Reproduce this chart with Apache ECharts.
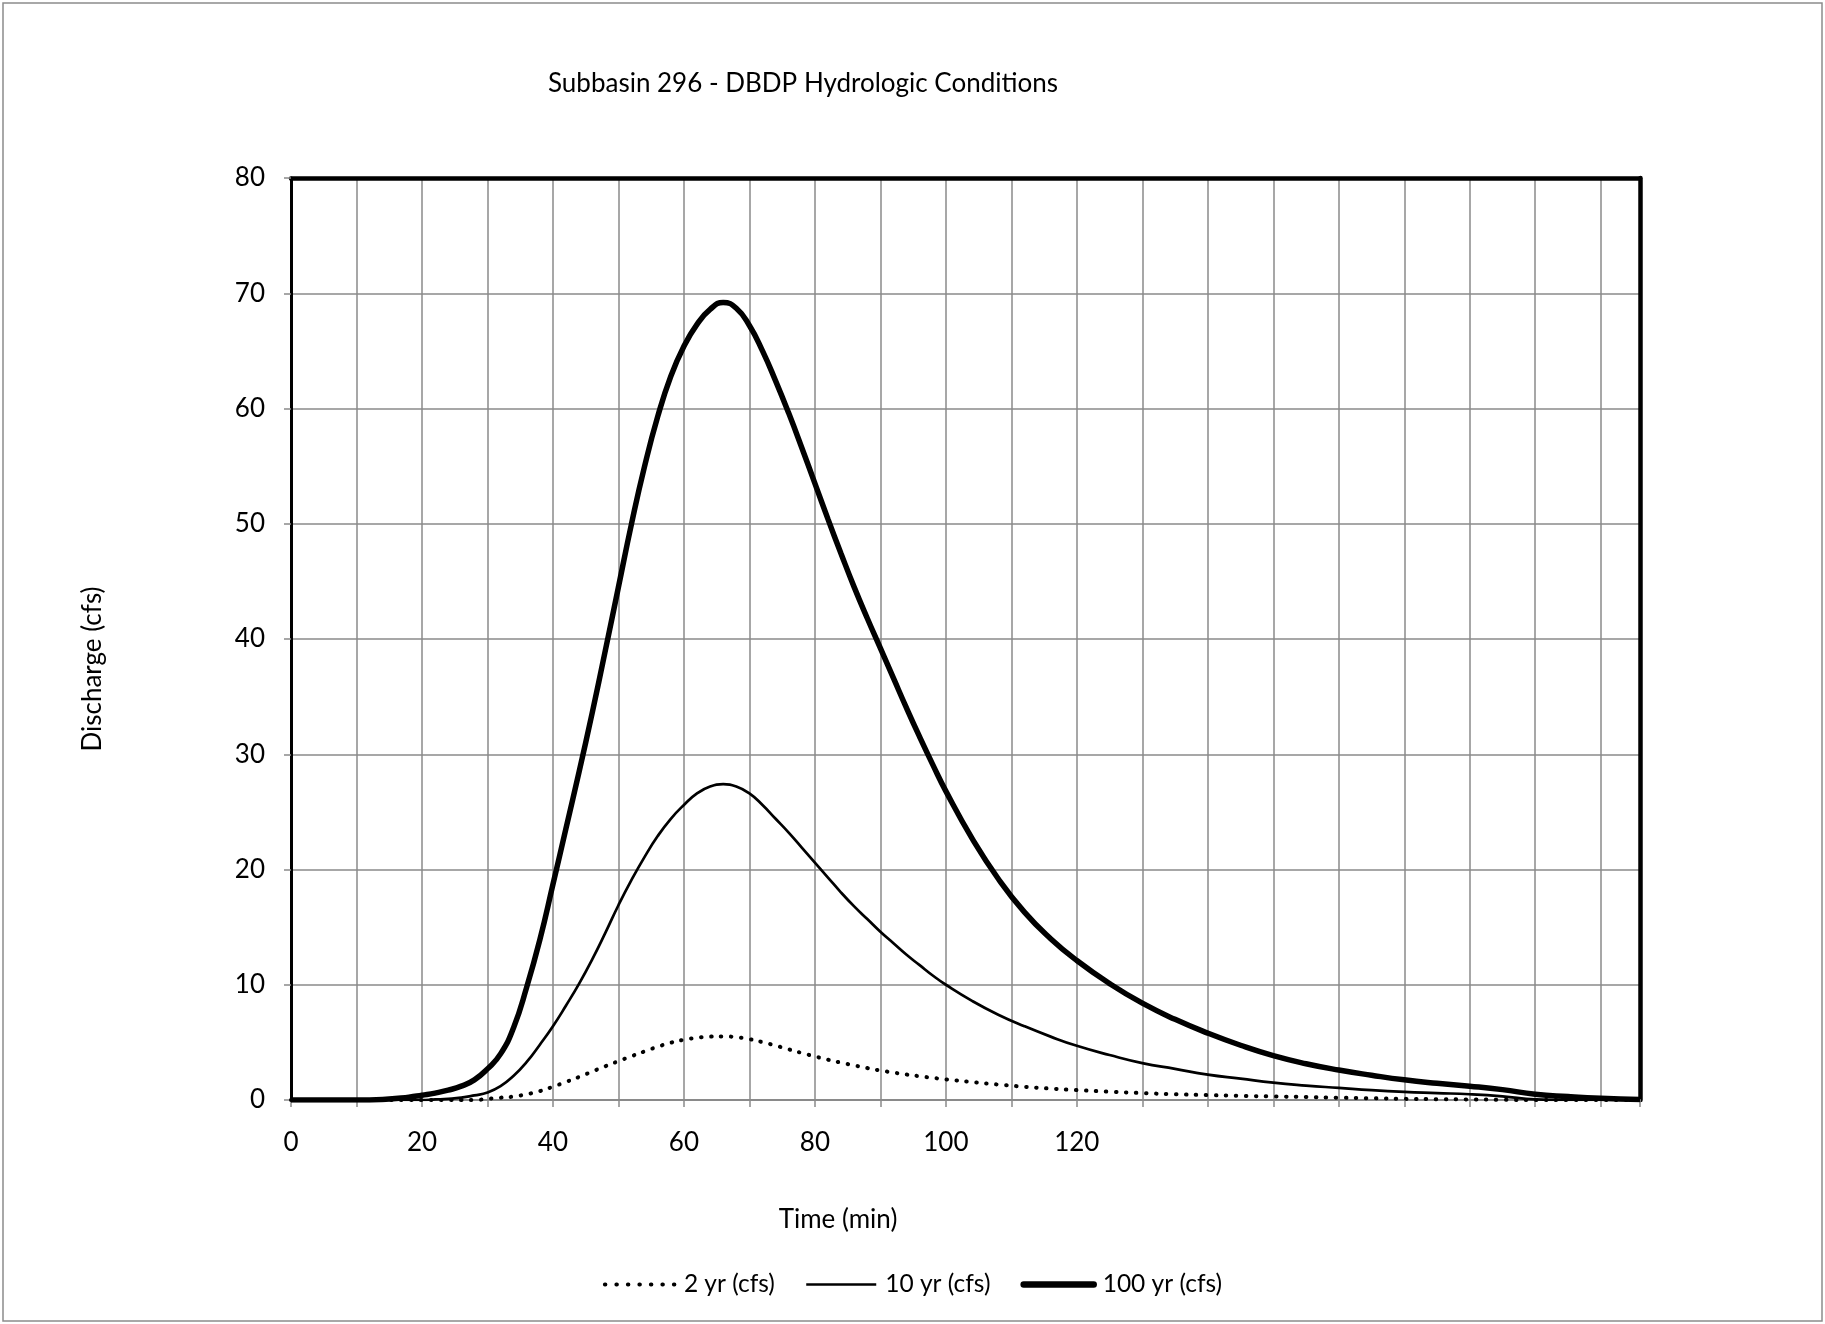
<!DOCTYPE html>
<html>
<head>
<meta charset="utf-8">
<script src="https://cdn.jsdelivr.net/npm/echarts@6/dist/echarts.min.js"></script>
<style>
  html, body { margin: 0; padding: 0; background: #fff; }
  #hydrograph { width: 1825px; height: 1324px; }
</style>
</head>
<body>
<div id="hydrograph"></div>
<script>
// time in minutes (shared by the three storms)
const timeMin = [0, 10, 14, 18, 20, 22, 24, 26, 28, 30, 32, 34, 36, 38, 40, 42, 44, 46, 48, 50,
  52, 54, 56, 58, 60, 62, 64, 66, 68, 70, 72, 74, 76, 78, 80, 82, 84, 86, 88, 90,
  92, 94, 96, 98, 100, 104, 108, 112, 116, 120, 125, 130, 135, 140, 145, 150, 155, 160, 165, 170,
  175, 180, 185, 190, 195, 200, 206];

const q2yr = [0, 0, 0, 0, 0, 0, 0, 0, 0, 0.1, 0.2, 0.3, 0.5, 0.77, 1.15, 1.57, 2.0, 2.47, 2.93, 3.37,
  3.8, 4.22, 4.62, 4.97, 5.23, 5.4, 5.5, 5.52, 5.45, 5.28, 5.02, 4.72, 4.4, 4.08, 3.78, 3.5, 3.24, 3.0, 2.77, 2.56,
  2.38, 2.21, 2.06, 1.92, 1.79, 1.55, 1.34, 1.15, 0.99, 0.86, 0.72, 0.6, 0.5, 0.42, 0.36, 0.31, 0.26, 0.2, 0.15, 0.1,
  0.07, 0.05, 0.02, 0, 0, 0, 0];

const q10yr = [0, 0, 0, 0, 0, 0.05, 0.1, 0.2, 0.4, 0.65, 1.2, 2.1, 3.3, 4.8, 6.4, 8.2, 10.1, 12.2, 14.5, 16.9,
  19.1, 21.1, 22.9, 24.4, 25.6, 26.6, 27.2, 27.4, 27.2, 26.6, 25.6, 24.4, 23.2, 21.9, 20.6, 19.3, 18.0, 16.8, 15.7, 14.6,
  13.6, 12.6, 11.7, 10.8, 10.0, 8.6, 7.4, 6.4, 5.5, 4.7, 3.9, 3.2, 2.7, 2.2, 1.85, 1.5, 1.25, 1.05, 0.85, 0.7,
  0.6, 0.5, 0.32, 0.05, 0, 0, 0];

const q100yr = [0, 0, 0.05, 0.25, 0.42, 0.6, 0.85, 1.2, 1.75, 2.7, 4.0, 6.3, 9.8, 13.9, 18.7, 23.6, 28.5, 33.6, 39.0, 44.5,
  50.0, 55.0, 59.3, 62.8, 65.4, 67.3, 68.6, 69.2, 68.7, 67.2, 65.0, 62.4, 59.6, 56.6, 53.5, 50.4, 47.4, 44.5, 41.8, 39.2,
  36.6, 34.0, 31.5, 29.1, 26.8, 22.7, 19.2, 16.3, 14.0, 12.1, 10.1, 8.4, 7.0, 5.8, 4.75, 3.85, 3.15, 2.6, 2.15, 1.75,
  1.45, 1.2, 0.9, 0.5, 0.3, 0.15, 0.05];

const xLabels = [0, 20, 40, 60, 80, 100, 120];

const font = 'Lato, "Liberation Sans", sans-serif';
const gridGrey = '#8a8a8a';
const dotted = [0.5, 9.5];

function pairs(values) {
  return timeMin.map((t, i) => [t, values[i]]);
}

const chart = echarts.init(document.getElementById('hydrograph'));

const option = {
  animation: false,
  backgroundColor: '#fff',
  textStyle: { fontFamily: font, color: '#000' },
  title: {
    text: 'Subbasin 296 - DBDP Hydrologic Conditions',
    left: 543,
    top: 66,
    textStyle: { fontFamily: font, fontSize: 26, fontWeight: 'normal', color: '#000' },
  },
  legend: {
    bottom: 22,
    left: 'center',
    itemWidth: 70,
    itemHeight: 14,
    itemGap: 30,
    textStyle: { fontFamily: font, fontSize: 24.5, color: '#000', padding: [0, 0, 0, 4] },
    itemStyle: { color: 'rgba(0,0,0,0)', borderWidth: 0, opacity: 0 },
    data: [
      { name: '2 yr (cfs)', lineStyle: { width: 4, type: [0.5, 11], cap: 'round' } },
      { name: '10 yr (cfs)', lineStyle: { width: 2.7 } },
      { name: '100 yr (cfs)', lineStyle: { width: 6.5, cap: 'round' } },
    ],
  },
  grid: { left: 291, top: 178, right: 185, bottom: 224 },
  xAxis: [
    {
      type: 'value',
      min: 0,
      max: 206,
      interval: 10,
      axisLine: { lineStyle: { color: gridGrey, width: 2 } },
      axisTick: { show: true, length: 7, lineStyle: { color: gridGrey, width: 1.5 } },
      axisLabel: {
        margin: 30,
        fontFamily: font,
        fontSize: 26,
        color: '#000',
        formatter: (v) => (xLabels.includes(v) ? String(v) : ''),
      },
      splitLine: { show: true, lineStyle: { color: gridGrey, width: 1.5 } },
    },
    {
      type: 'value',
      position: 'top',
      min: 0,
      max: 206,
      axisLine: { onZero: false, lineStyle: { color: '#000', width: 4.5 } },
      axisTick: { show: false },
      axisLabel: { show: false },
      splitLine: { show: false },
    },
  ],
  yAxis: [
    {
      type: 'value',
      min: 0,
      max: 80,
      interval: 10,
      axisLine: { show: true, onZero: false, lineStyle: { color: '#000', width: 3 } },
      axisTick: { show: true, length: 7, lineStyle: { color: gridGrey, width: 1.5 } },
      axisLabel: { margin: 26, fontFamily: font, fontSize: 26, color: '#000' },
      splitLine: { show: true, lineStyle: { color: gridGrey, width: 1.5 } },
    },
    {
      type: 'value',
      position: 'right',
      min: 0,
      max: 80,
      axisLine: { show: true, onZero: false, lineStyle: { color: '#000', width: 4.5 } },
      axisTick: { show: false },
      axisLabel: { show: false },
      splitLine: { show: false },
    },
  ],
  graphic: [
    {
      type: 'rect',
      shape: { x: 3, y: 3, width: 1819, height: 1318 },
      style: { fill: 'none', stroke: '#8c8c8c', lineWidth: 1.5 },
      silent: true,
    },
    {
      type: 'text',
      x: 93,
      y: 669,
      rotation: Math.PI / 2,
      style: {
        text: 'Discharge (cfs)',
        font: '26px ' + font,
        fill: '#000',
        align: 'center',
        verticalAlign: 'middle',
      },
    },
    {
      type: 'text',
      x: 838,
      y: 1220,
      style: {
        text: 'Time (min)',
        font: '26px ' + font,
        fill: '#000',
        align: 'center',
        verticalAlign: 'middle',
      },
    },
  ],
  series: [
    {
      name: '2 yr (cfs)',
      type: 'line',
      data: pairs(q2yr),
      showSymbol: false,
      symbol: 'none',
      smooth: 0.5,
      color: '#000',
      lineStyle: { color: '#000', width: 4, type: dotted, cap: 'round' },
      z: 3,
    },
    {
      name: '10 yr (cfs)',
      type: 'line',
      data: pairs(q10yr),
      showSymbol: false,
      symbol: 'none',
      smooth: 0.5,
      color: '#000',
      lineStyle: { color: '#000', width: 2.7 },
      z: 4,
    },
    {
      name: '100 yr (cfs)',
      type: 'line',
      data: pairs(q100yr),
      showSymbol: false,
      symbol: 'none',
      smooth: 0.5,
      color: '#000',
      lineStyle: { color: '#000', width: 5.5 },
      z: 5,
    },
  ],
};

chart.setOption(option);
</script>
</body>
</html>
